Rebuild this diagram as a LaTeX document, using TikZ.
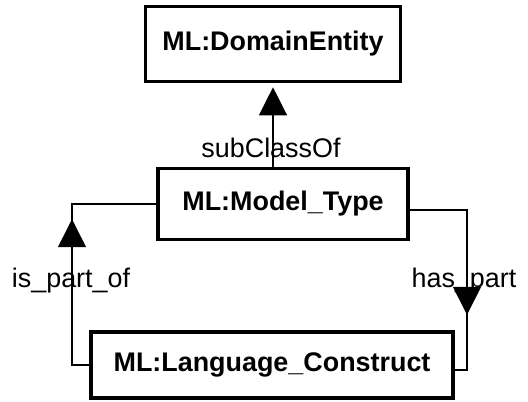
\documentclass[tikz,border=0pt]{standalone}
\usepackage{fontspec}
\setmainfont{Liberation Sans}
\usetikzlibrary{arrows.meta,decorations.markings}

\tikzset{
  classbox/.style={draw, line width=3.6bp, minimum width=#1, inner sep=0pt,
    font=\fontsize{27}{30}\selectfont\bfseries},
  rel/.style={font=\fontsize{27}{30}\selectfont, inner sep=0pt, anchor=base},
  link/.style={line width=1.4bp},
  headtip/.style={-{Triangle[length=28bp,width=28bp]}},
  midarrow/.style={postaction={decorate}, decoration={markings,
    mark=at position #1 with {\arrow{Triangle[length=28bp,width=28bp]}}}}
}

\begin{document}
\begin{tikzpicture}[x=1bp, y=-1bp]
      \useasboundingbox (0, 0) rectangle (528, 401);
      \node[classbox=255bp, minimum height=75bp] (de) at (273, 44) {ML:DomainEntity};
      \node[classbox=250bp, minimum height=71bp] (mt) at (283, 204) {ML:Model\_Type};
      \node[classbox=362bp, minimum height=66bp] (lc) at (272, 365) {ML:Language\_Construct};
      \coordinate (ipo) at (72, 290);
      \coordinate (hp) at (467, 290);
      \draw[link, headtip, shorten >=4bp] (mt.north -| de.south) -- (de.south);
      \draw[link, midarrow=163bp] (lc.west) -| (ipo) |- (mt.west);
      \draw[link, midarrow=162bp] ([yshift=-6bp]mt.east) -| (hp) |- ([yshift=-5bp]lc.east);
      \node[rel] (sc) at (271, 157) {subClassOf};
      \node[rel] (po) at (71, 287) {is\_part\_of};
      \node[rel] (hs) at (464, 287) {has\_part};
    \end{tikzpicture}
\end{document}
